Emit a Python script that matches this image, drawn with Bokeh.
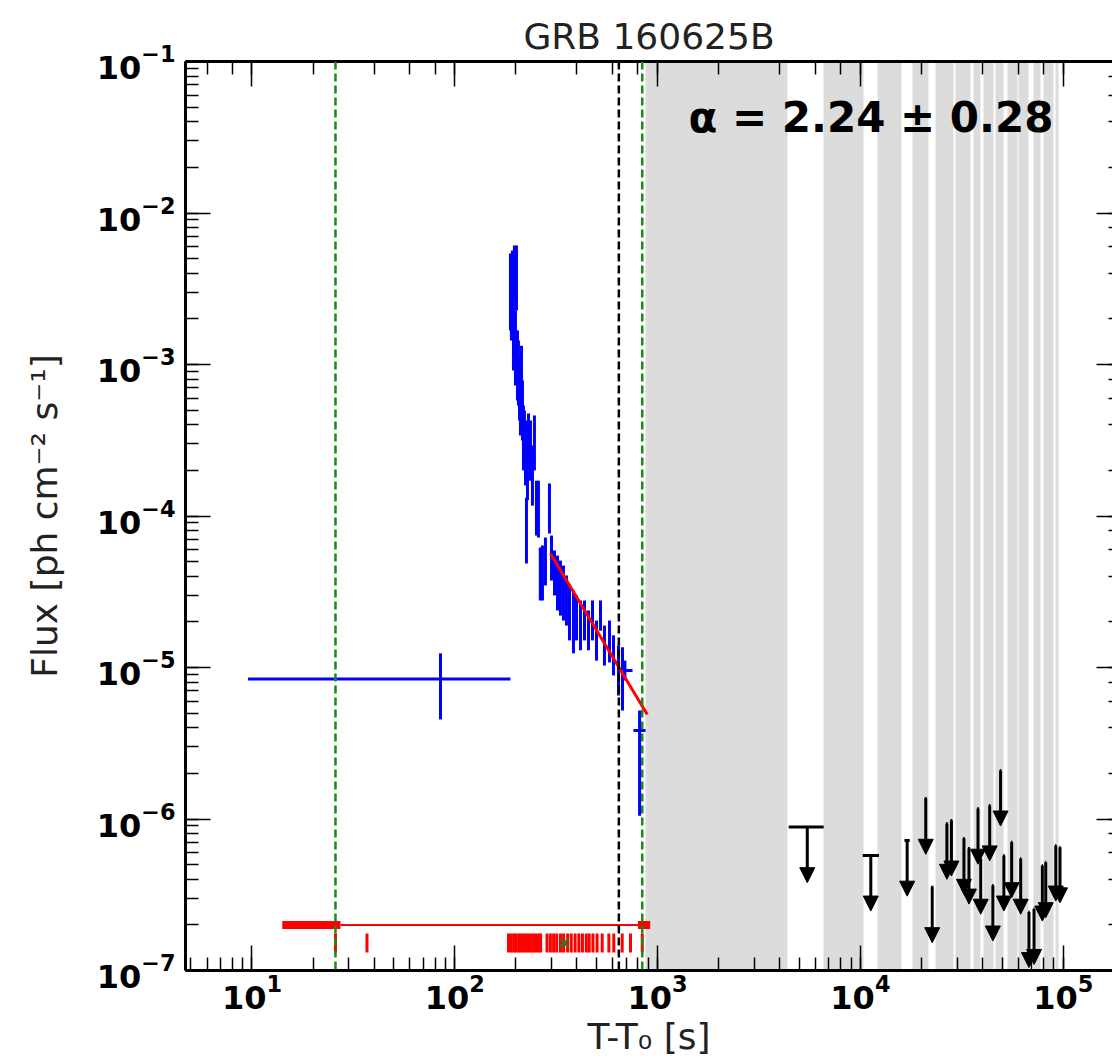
import numpy as np
from bokeh.plotting import figure
from bokeh.models import (LogAxis, LogTicker, Span, Label, Arrow, NormalHead, ColumnDataSource,
                          CustomJSTickFormatter)
from bokeh.embed import file_html
from bokeh.resources import INLINE

FONT = "DejaVu Sans"

# ---------------- data ----------------
# LAT flux points (time [s], flux, flux low, flux high, bin start, bin end)
blue_t = [85.0, 188.1, 190.2, 192.4, 194.6, 196.8, 199.1, 201.4, 203.7, 206.0, 208.4, 210.7, 213.2,
          215.6, 218.0, 220.5, 223.1, 225.6, 228.2, 230.8, 236.1, 241.5, 247.0, 252.7, 258.5, 264.0,
          270.5, 279.9, 292.9, 299.7, 310.1, 320.9, 331.9, 343.4, 355.3, 367.7, 384.7, 398.1, 416.6,
          436.0, 456.2, 477.4, 499.6, 522.8, 547.0, 579.1, 605.9, 641.4, 671.2, 690.0, 815.0]
blue_f = [8.4e-6, 3.08e-3, 2.64e-3, 3.87e-3, 1.68e-3, 4.50e-3, 1.33e-3, 4.17e-3, 1.06e-3, 9.13e-4,
          6.74e-4, 5.79e-4, 7.84e-4, 4.97e-4, 3.15e-4, 3.67e-4, 2.51e-4, 8.02e-5, 2.00e-4, 3.67e-4,
          2.71e-4, 1.85e-4, 3.15e-4, 1.27e-4, 1.17e-4, 4.05e-5, 4.37e-5, 5.08e-5, 1.17e-4, 5.48e-5,
          4.37e-5, 3.75e-5, 3.48e-5, 3.22e-5, 2.77e-5, 2.38e-5, 2.04e-5, 2.20e-5, 1.89e-5, 2.04e-5,
          1.75e-5, 2.04e-5, 1.51e-5, 2.20e-5, 1.40e-5, 1.40e-5, 1.20e-5, 9.55e-6, 8.21e-6, 9.55e-6,
          3.84e-6]
blue_flo = [4.54e-6, 1.68e-3, 1.44e-3, 1.95e-3, 9.13e-4, 2.64e-3, 7.27e-4, 2.27e-3, 5.79e-4, 5.36e-4,
            4.27e-4, 3.40e-4, 4.61e-4, 3.15e-4, 2.00e-4, 2.32e-4, 1.59e-4, 4.86e-5, 1.27e-4, 2.32e-4,
            1.71e-4, 1.17e-4, 2.00e-4, 7.43e-5, 7.21e-5, 2.77e-5, 2.77e-5, 3.48e-5, 7.66e-5, 3.75e-5,
            2.99e-5, 2.38e-5, 2.20e-5, 2.04e-5, 1.89e-5, 1.51e-5, 1.24e-5, 1.51e-5, 1.30e-5, 1.51e-5,
            1.30e-5, 1.51e-5, 1.11e-5, 1.75e-5, 1.03e-5, 1.08e-5, 8.86e-6, 6.53e-6, 5.20e-6, 8.21e-6,
            1.05e-6]
blue_fhi = [1.24e-5, 5.40e-3, 4.72e-3, 5.66e-3, 2.64e-3, 6.10e-3, 2.27e-3, 6.10e-3, 1.68e-3, 1.44e-3,
            1.15e-3, 9.13e-4, 1.33e-3, 7.84e-4, 5.36e-4, 4.97e-4, 4.27e-4, 1.32e-4, 3.15e-4, 4.75e-4,
            4.27e-4, 2.92e-4, 4.61e-4, 1.71e-4, 1.71e-4, 6.19e-5, 6.39e-5, 7.21e-5, 1.64e-4, 7.43e-5,
            5.92e-5, 5.48e-5, 5.08e-5, 4.71e-5, 4.05e-5, 3.48e-5, 3.22e-5, 2.99e-5, 2.77e-5, 2.77e-5,
            2.38e-5, 2.77e-5, 2.04e-5, 2.77e-5, 1.89e-5, 2.04e-5, 1.63e-5, 1.40e-5, 1.36e-5, 1.11e-5,
            5.20e-6]
blue_tlo = [9.55, 187.0, 189.2, 191.3, 193.5, 195.7, 198.0, 200.3, 202.5, 204.8, 207.2, 209.5, 212.0,
            214.4, 216.8, 219.2, 221.8, 224.3, 226.9, 229.0, 233.5, 239.0, 244.5, 250.0, 255.5, 261.0,
            267.5, 276.0, 288.5, 296.0, 306.0, 316.5, 327.5, 339.0, 350.5, 363.0, 379.5, 393.0, 411.0,
            430.0, 450.0, 471.0, 493.0, 516.0, 540.0, 571.0, 598.0, 633.0, 662.0, 634.0, 760.0]
blue_thi = [188.0, 189.2, 191.3, 193.5, 195.7, 198.0, 200.3, 202.5, 204.8, 207.2, 209.5, 212.0, 214.4,
            216.8, 219.2, 221.8, 224.3, 226.9, 229.5, 232.5, 238.5, 244.0, 249.5, 255.5, 261.5, 267.0,
            273.5, 284.0, 297.5, 303.5, 314.0, 325.5, 336.5, 348.0, 360.0, 372.5, 390.0, 403.5, 422.0,
            442.0, 462.5, 484.0, 506.5, 530.0, 554.0, 587.5, 614.0, 650.0, 680.0, 752.0, 872.0]

# power-law fit (alpha = 2.24)
fit_t = [296.0, 889.0]
fit_f = [5.65e-5, 4.9e-6]

# upper limits (time, flux UL, bin start, bin end)
ul_t = [5470, 11250, 17000, 21000, 22600, 26700, 28100, 32400, 34300, 38000, 39200, 43400,
        45000, 49100, 51000, 55700, 61700, 67800, 71800, 78900, 82000, 91900, 96400]
ul_f = [8.84e-7, 5.74e-7, 7.2e-7, 1.36e-6, 3.55e-7, 9.3e-7, 9.77e-7, 7.4e-7, 6.38e-7, 1.17e-6,
        5.47e-7, 1.23e-6, 3.64e-7, 2.09e-6, 5.74e-7, 7.03e-7, 5.47e-7, 2.43e-7, 2.55e-7, 4.93e-7,
        5.19e-7, 6.68e-7, 6.5e-7]
ul_tlo = [4430, 10270, 16500, 20700, 22300, 26400, 27800, 32000, 33900, 37600, 38800, 43000,
          44600, 48700, 50600, 55200, 61200, 67300, 71300, 78400, 81500, 91300, 95800]
ul_thi = [6590, 12350, 17500, 21300, 22900, 27000, 28400, 32800, 34700, 38400, 39600, 43800,
          45400, 49500, 51400, 56200, 62200, 68300, 72300, 79400, 82500, 92500, 97000]

# gray intervals (time ranges, s)
band_lo = [871, 6590, 12170, 18100, 23470, 29490, 36150, 40550, 46480, 53240, 60350, 71530, 80150, 91880]
band_hi = [4379, 10380, 15990, 21590, 28830, 34990, 39190, 45430, 50880, 59670, 67580, 77460, 89810, 95030]

# vertical reference times
green_lines = [25.8, 840.0]
black_lines = [644.0]

# red time intervals at the bottom
red_level = 2.0e-7
red_thick_lo = [14.1, 800.0]
red_thick_hi = [27.3, 920.0]
red_thin = [27.3, 840.0]

# photon arrival times
phot_level = 1.52e-7
phot_t = [25.8, 36.9, 184, 190, 196, 201, 207, 212, 218, 224, 230, 236, 243, 250, 258, 265,
          285, 296, 307, 318, 332, 344, 360, 375, 392, 409, 426, 445, 460, 480,
          503, 533, 575, 608, 669, 735, 840]
best_photon = [347.0]

ARROW_FRAC = 0.43
X_END = 1.75e5          # visible end of the time axis (plot is cropped on the right)
X_SPINE = 1.94e5        # position of the (cropped) right spine

# ---------------- figure ----------------
p = figure(width=1112, height=1062, x_axis_type="log", y_axis_type="log",
           x_range=(4.7, X_END), y_range=(1e-7, 1e-1),
           output_backend="svg", toolbar_location=None,
           min_border_left=185, min_border_right=0, min_border_top=61, min_border_bottom=92,
           title="GRB 160625B")
p.background_fill_color = "white"
p.border_fill_color = "white"
p.outline_line_color = None
p.xgrid.visible = False
p.ygrid.visible = False

p.title.text_font = FONT
p.title.text_font_size = "36px"
p.title.text_font_style = "normal"
p.title.align = "center"
p.title.text_color = "#222222"


def style_axis(ax):
    ax.axis_line_width = 3
    ax.axis_line_color = "black"
    ax.major_tick_in = 25
    ax.major_tick_out = 0
    ax.minor_tick_in = 13
    ax.minor_tick_out = 0
    ax.major_tick_line_width = 1.5
    ax.minor_tick_line_width = 1.5
    ax.major_label_text_font = FONT
    ax.major_label_text_font_style = "bold"
    ax.major_label_text_font_size = "32px"
    ax.major_label_text_color = "black"
    ax.axis_label_text_font = FONT
    ax.axis_label_text_font_style = "normal"
    ax.axis_label_text_font_size = "36px"
    ax.axis_label_text_color = "#222222"


style_axis(p.xaxis[0])
style_axis(p.yaxis[0])
p.xaxis.axis_label = "T-T\u2080 [s]"
p.yaxis.axis_label = "Flux [ph cm\u207b\u00b2 s\u207b\u00b9]"
p.xaxis.major_label_standoff = 3
p.xaxis.axis_label_standoff = 4
p.yaxis.major_label_standoff = 10
p.yaxis.axis_label_standoff = 29

top = LogAxis(ticker=LogTicker(), formatter=CustomJSTickFormatter(code="return ''"))
style_axis(top)
top.major_label_standoff = 0
p.add_layout(top, "above")

right = LogAxis(ticker=LogTicker(), formatter=CustomJSTickFormatter(code="return ''"),
                fixed_location=X_SPINE)
style_axis(right)
right.major_label_standoff = 0
p.add_layout(right, "right")

# gray bands
p.vstrip(x0=band_lo, x1=band_hi, fill_color="#dcdcdc", line_color=None)

# reference lines
for t in green_lines:
    p.add_layout(Span(location=t, dimension="height", line_color="#1a8a1a",
                      line_width=2.5, line_dash="8 4"))
for t in black_lines:
    p.add_layout(Span(location=t, dimension="height", line_color="black",
                      line_width=2.5, line_dash="8 4"))

# blue LAT fluxes
bsrc = ColumnDataSource(dict(t=blue_t, f=blue_f, flo=blue_flo, fhi=blue_fhi, tlo=blue_tlo, thi=blue_thi))
p.segment(x0="tlo", x1="thi", y0="f", y1="f", source=bsrc, line_color="blue", line_width=3)
p.segment(x0="t", x1="t", y0="flo", y1="fhi", source=bsrc, line_color="blue", line_width=3)

# fit
p.line(fit_t, fit_f, line_color="red", line_width=3)

# upper limits
ul_tip = [v * ARROW_FRAC for v in ul_f]
usrc = ColumnDataSource(dict(t=ul_t, f=ul_f, tip=ul_tip, tlo=ul_tlo, thi=ul_thi))
p.segment(x0="tlo", x1="thi", y0="f", y1="f", source=usrc, line_color="black", line_width=3)
p.add_layout(Arrow(end=NormalHead(size=15, fill_color="black", line_color="black", line_width=1),
                   x_start="t", y_start="f", x_end="t", y_end="tip", source=usrc,
                   line_color="black", line_width=3))

# red intervals
p.segment(x0=red_thick_lo, x1=red_thick_hi, y0=[red_level] * 2, y1=[red_level] * 2,
          line_color="red", line_width=8)
p.segment(x0=[red_thin[0]], x1=[red_thin[1]], y0=[red_level], y1=[red_level],
          line_color="red", line_width=2)

# photons
p.scatter(x=phot_t, y=[phot_level] * len(phot_t), marker="dash", angle=np.pi / 2, size=19,
          line_color="red", line_width=3)
p.scatter(x=best_photon, y=[phot_level], marker="x", size=12, line_color="#2a7a2a", line_width=2.5)

# annotation
p.add_layout(Label(x=1420, y=0.043, text="\u03b1 = 2.24 \u00b1 0.28", text_font=FONT,
                   text_font_style="bold", text_font_size="42px", text_baseline="middle",
                   text_align="left", text_color="black"))

open("out.html", "w").write(file_html(p, INLINE))
